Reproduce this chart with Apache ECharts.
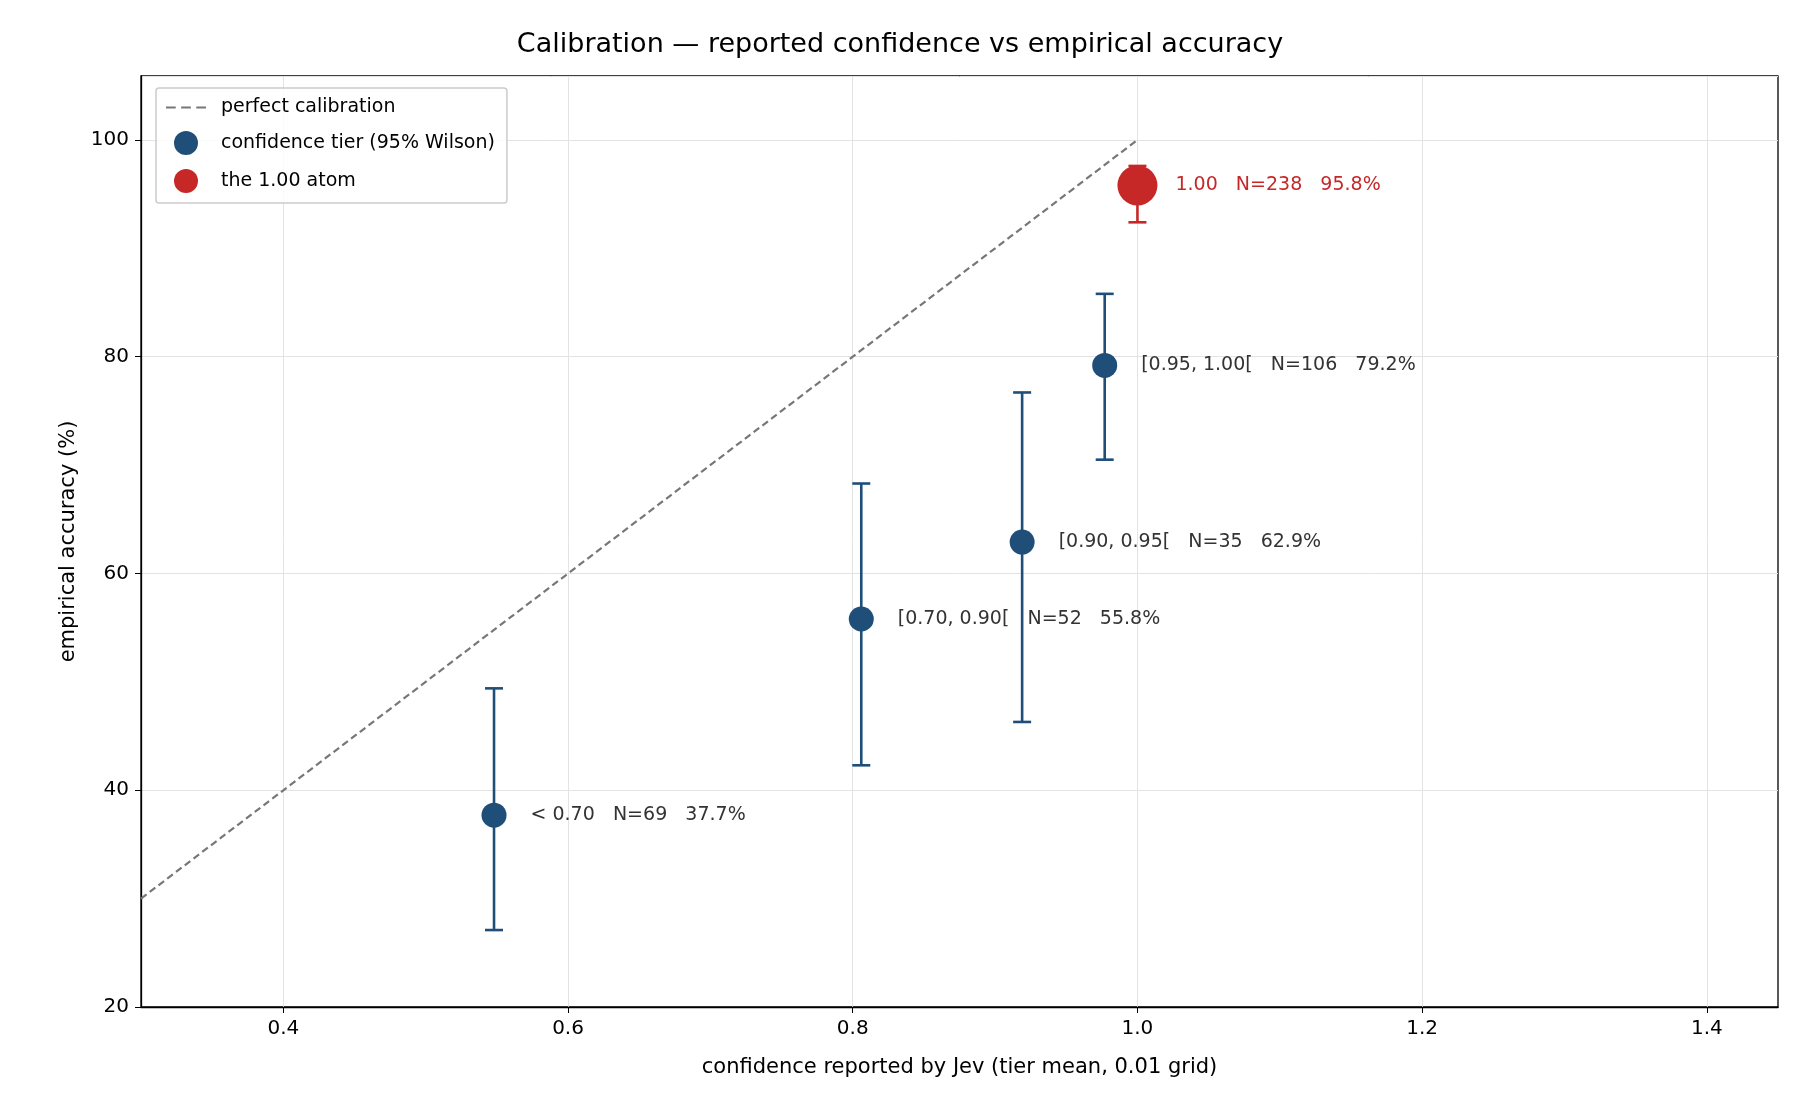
<!DOCTYPE html>
<html><head><meta charset="utf-8">
<script src="https://cdn.jsdelivr.net/npm/echarts@6/dist/echarts.min.js"></script>
<style>html,body{margin:0;background:#fff}#c{width:1800px;height:1120px}</style>
</head><body><div id="c"></div>
<script>
const tierLabels = ['< 0.70   N=69   37.7%', '[0.70, 0.90[   N=52   55.8%', '[0.90, 0.95[   N=35   62.9%', '[0.95, 1.00[   N=106   79.2%'];
const tierX = [0.548, 0.806, 0.919, 0.977];
const tierY = [37.7, 55.8, 62.9, 79.2];
const tierLo = [27.1, 42.3, 46.3, 70.5];
const tierHi = [49.4, 68.3, 76.7, 85.8];
const atomLabel = '1.00   N=238   95.8%';
const atomX = [1.0];
const atomY = [95.8];
const atomLo = [92.4];
const atomHi = [97.6];
const diagX = [0.3, 1.0];
const xTicks = [0.4, 0.6, 0.8, 1.0, 1.2, 1.4];

const F = 'DejaVu Sans';
const blue = '#1f4e79', red = '#c62828';
function errSeries(xs, lo, hi, color, name) {
  return {
    type: 'custom', name: name, z: 2,
    data: xs.map((x, i) => [x, lo[i], hi[i]]),
    renderItem: (p, api) => {
      const a = api.coord([api.value(0), api.value(1)]);
      const b = api.coord([api.value(0), api.value(2)]);
      const w = 9, s = {stroke: color, lineWidth: 2.6};
      return {type: 'group', children: [
        {type: 'line', shape: {x1: a[0], y1: a[1], x2: b[0], y2: b[1]}, style: s},
        {type: 'line', shape: {x1: a[0]-w, y1: a[1], x2: a[0]+w, y2: a[1]}, style: s},
        {type: 'line', shape: {x1: b[0]-w, y1: b[1], x2: b[0]+w, y2: b[1]}, style: s}
      ]};
    }
  };
}
const chart = echarts.init(document.getElementById('c'));
chart.setOption({
  animation: false,
  textStyle: {fontFamily: F},
  title: {text: 'Calibration — reported confidence vs empirical accuracy', left: 'center', top: 26,
    textStyle: {fontFamily: F, fontSize: 27, fontWeight: 'normal', color: '#000'}},
  grid: {left: 141, right: 22, top: 76, bottom: 113, show: true, borderColor: '#000', borderWidth: 1.3},
  legend: {
    orient: 'vertical', left: 156, top: 88, padding: [10, 12, 10, 10], itemGap: 14,
    borderColor: '#ccc', borderWidth: 1.5, borderRadius: 3, backgroundColor: 'rgba(255,255,255,0.8)',
    textStyle: {fontFamily: F, fontSize: 19, color: '#000', padding: [0, 0, 0, 10]}, itemWidth: 40, itemHeight: 24,
    data: [
      {name: 'perfect calibration', icon: 'path://M0,11 L9,11 L9,13 L0,13 Z M14,11 L23,11 L23,13 L14,13 Z M28,11 L37,11 L37,13 L28,13 Z', itemStyle: {color: '#777'}},
      {name: 'confidence tier (95% Wilson)', icon: 'path://M20,2 A10,10 0 1 1 19.99,2 Z', itemStyle: {color: blue}},
      {name: 'the 1.00 atom', icon: 'circle', itemStyle: {color: red}}
    ]
  },
  xAxis: {type: 'value', min: 0.3, max: 1.45,
    name: 'confidence reported by Jev (tier mean, 0.01 grid)', nameLocation: 'middle', nameGap: 50,
    nameTextStyle: {fontFamily: F, fontSize: 21, color: '#000'},
    axisLine: {onZero: false, lineStyle: {color: '#000', width: 1.3}},
    axisTick: {length: 6, lineStyle: {color: '#000'}, customValues: xTicks},
    axisLabel: {fontFamily: F, fontSize: 20, color: '#000', margin: 12, customValues: xTicks,
      formatter: v => v.toFixed(1)},
    splitLine: {show: true, lineStyle: {color: '#e3e3e3', width: 1}}
  },
  yAxis: {type: 'value', min: 20, max: 105.9, interval: 20,
    name: 'empirical accuracy (%)', nameLocation: 'middle', nameGap: 62,
    nameTextStyle: {fontFamily: F, fontSize: 21, color: '#000'},
    axisLine: {show: true, lineStyle: {color: '#000', width: 1.3}}, axisTick: {show: true, length: 6, lineStyle: {color: '#000'}},
    axisLabel: {fontFamily: F, fontSize: 20, color: '#000', margin: 12, showMaxLabel: false},
    splitLine: {show: true, lineStyle: {color: '#e3e3e3', width: 1}}
  },
  series: [
    {type: 'line', name: 'perfect calibration', data: diagX.map(x => [x, x*100]), symbol: 'none',
     lineStyle: {color: '#777', width: 2.2, type: [7, 4]}, z: 1},
    errSeries(tierX, tierLo, tierHi, blue, 'confidence tier (95% Wilson)'),
    {type: 'scatter', name: 'confidence tier (95% Wilson)', symbolSize: 25, z: 3,
     itemStyle: {color: blue, opacity: 1},
     data: tierX.map((x, i) => ({value: [x, tierY[i]], label: {formatter: tierLabels[i]}})),
     label: {show: true, position: 'right', distance: 24, fontFamily: F, fontSize: 19, color: '#333'}},
    errSeries(atomX, atomLo, atomHi, red, 'the 1.00 atom'),
    {type: 'scatter', name: 'the 1.00 atom', symbolSize: 40, z: 3,
     itemStyle: {color: red, opacity: 1},
     data: atomX.map((x, i) => ({value: [x, atomY[i]], label: {formatter: atomLabel}})),
     label: {show: true, position: 'right', distance: 18, fontFamily: F, fontSize: 19, color: red}}
  ]
});
</script></body></html>
